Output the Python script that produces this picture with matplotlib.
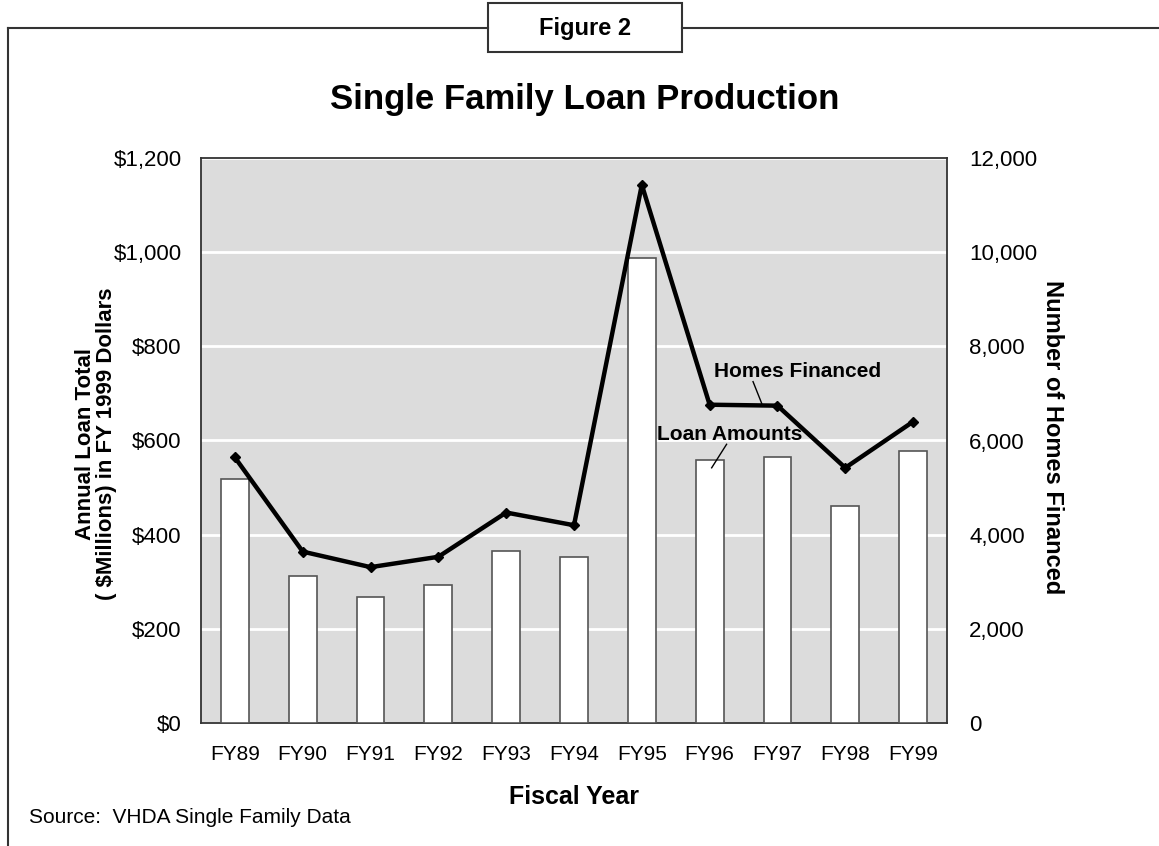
import matplotlib.pyplot as plt
from matplotlib.lines import Line2D
from matplotlib.patches import Rectangle
import numpy as np

# data
years = ["FY89", "FY90", "FY91", "FY92", "FY93", "FY94", "FY95", "FY96", "FY97", "FY98", "FY99"]
loan_amounts = [518, 312, 267, 293, 366, 352, 988, 558, 565, 460, 578]
homes_financed = [5640, 3640, 3310, 3530, 4470, 4200, 11430, 6760, 6740, 5420, 6400]

left_ticks = [0, 200, 400, 600, 800, 1000, 1200]
left_labels = ["$0", "$200", "$400", "$600", "$800", "$1,000", "$1,200"]
right_ticks = [0, 2000, 4000, 6000, 8000, 10000, 12000]
right_labels = ["0", "2,000", "4,000", "6,000", "8,000", "10,000", "12,000"]

NARROW = ["Liberation Sans Narrow", "Liberation Sans", "DejaVu Sans"]
REG = ["Liberation Sans", "DejaVu Sans"]

fig = plt.figure(figsize=(11.59, 8.46), dpi=100)
W, H = 1159, 846

# plot area in pixels: x 201-947, y 158-723
ax = fig.add_axes([201 / W, 1 - 723 / H, 746 / W, 565 / H])
ax.set_facecolor("#dcdcdc")
x = np.arange(len(years))
ax.bar(x, loan_amounts, width=0.41, color="white", edgecolor="#555555", linewidth=1.2, zorder=3)
ax.set_xlim(-0.5, len(years) - 0.5)
ax.set_ylim(0, 1200)
ax.set_yticks(left_ticks)
ax.set_yticklabels(left_labels, fontfamily=NARROW, fontsize=16)
ax.set_xticks(x)
ax.set_xticklabels(years, fontfamily=NARROW, fontsize=15)
ax.tick_params(length=0, pad=14)
ax.tick_params(axis="x", pad=16)
ax.yaxis.grid(True, color="white", linewidth=2, zorder=1)
ax.set_axisbelow(True)
for s in ax.spines.values():
    s.set_color("#333333")
    s.set_linewidth(1.3)

ax2 = ax.twinx()
ax2.plot(x, homes_financed, color="black", linewidth=3.2, marker="D", markersize=5, zorder=5)
ax2.set_ylim(0, 12000)
ax2.set_yticks(right_ticks)
ax2.set_yticklabels(right_labels, fontfamily=NARROW, fontsize=16)
ax2.tick_params(length=0, pad=16)
for s in ax2.spines.values():
    s.set_visible(False)

# annotations
ax.text(8.3, 747, "Homes Financed", fontfamily=NARROW, fontweight="bold", fontsize=15,
        ha="center", va="center", zorder=6)
ax.plot([7.64, 7.77], [725, 678], color="black", linewidth=1, zorder=6)
ax.text(7.3, 613, "Loan Amounts", fontfamily=NARROW, fontweight="bold", fontsize=15,
        ha="center", va="center", zorder=6)
ax.plot([7.25, 7.03], [592, 542], color="black", linewidth=1, zorder=6)

# axis labels
fig.text(96 / W, 1 - 444 / H, "Annual Loan Total\n( $Millions) in FY 1999 Dollars",
         rotation=90, ha="center", va="center", fontfamily=NARROW, fontweight="bold",
         fontsize=16, linespacing=1.05)
fig.text(1052 / W, 1 - 437 / H, "Number of Homes Financed", rotation=-90,
         ha="center", va="center", fontfamily=NARROW, fontweight="bold", fontsize=17)
fig.text(574 / W, 1 - 797 / H, "Fiscal Year", ha="center", va="center",
         fontfamily=NARROW, fontweight="bold", fontsize=18)
fig.text(29 / W, 1 - 817 / H, "Source:  VHDA Single Family Data", ha="left", va="center",
         fontfamily=REG, fontsize=15)

# title
fig.text(585 / W, 1 - 100 / H, "Single Family Loan Production", ha="center", va="center",
         fontfamily=REG, fontweight="bold", fontsize=25)

# frame and figure box
fig.add_artist(Line2D([8 / W, 488 / W], [1 - 28 / H, 1 - 28 / H], color="#333333", linewidth=1.5))
fig.add_artist(Line2D([682 / W, 1.0], [1 - 28 / H, 1 - 28 / H], color="#333333", linewidth=1.5))
fig.add_artist(Line2D([8 / W, 8 / W], [0, 1 - 28 / H], color="#333333", linewidth=1.5))
fig.add_artist(Rectangle((488 / W, 1 - 52 / H), 194 / W, 49 / H, facecolor="white",
                         edgecolor="#333333", linewidth=1.5, transform=fig.transFigure))
fig.text(585 / W, 1 - 28 / H, "Figure 2", ha="center", va="center",
         fontfamily=NARROW, fontweight="bold", fontsize=17)

fig.savefig("out.png", dpi=100)
